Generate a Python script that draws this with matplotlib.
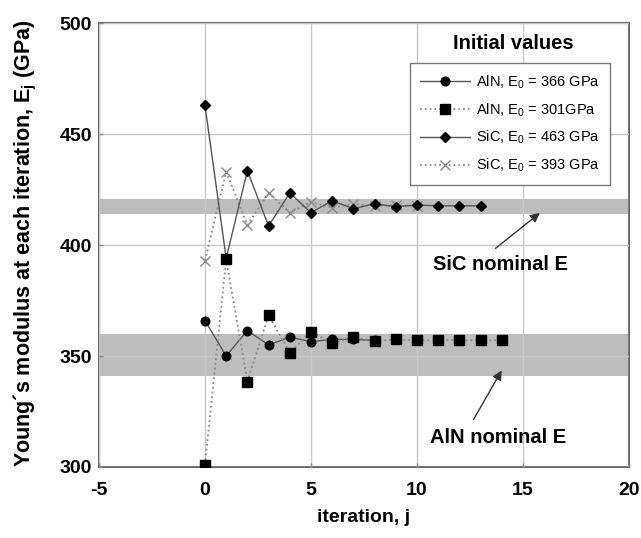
import matplotlib
matplotlib.use("Agg")
import matplotlib.pyplot as plt

plt.rcParams['font.family'] = ['Liberation Sans', 'DejaVu Sans']
plt.rcParams['mathtext.fontset'] = 'custom'
plt.rcParams['mathtext.rm'] = 'Liberation Sans'
plt.rcParams['mathtext.bf'] = 'Liberation Sans:bold'
plt.rcParams['mathtext.it'] = 'Liberation Sans:italic'
plt.rcParams['axes.unicode_minus'] = False

# Data
aln366_j = [0, 1, 2, 3, 4, 5, 6, 7, 8]
aln366_E = [366, 350, 361.5, 355, 358.5, 356.5, 357.5, 357.5, 357]
aln301_j = [0, 1, 2, 3, 4, 5, 6, 7, 8, 9, 10, 11, 12, 13, 14]
aln301_E = [301, 393.5, 338.5, 368.3, 351.5, 361, 355.7, 358.5, 356.7, 357.5, 357, 357.2, 357.1, 357.1, 357.1]
sic463_j = [0, 1, 2, 3, 4, 5, 6, 7, 8, 9, 10, 11, 12, 13]
sic463_E = [463, 394, 433.5, 408.6, 423.5, 414.6, 420, 416.4, 418.6, 417.3, 418, 417.7, 417.7, 417.7]
sic393_j = [0, 1, 2, 3, 4, 5, 6, 7, 8, 9, 10]
sic393_E = [393, 433, 409, 423.5, 414.6, 419.5, 416.8, 418.6, 417.5, 418, 417.7]
sic_band = (413.8, 420.8)
aln_band = (340.8, 359.8)
legend_labels = ["AlN, E$_0$ = 366 GPa", "AlN, E$_0$ = 301GPa",
                 "SiC, E$_0$ = 463 GPa", "SiC, E$_0$ = 393 GPa"]

fig = plt.figure(figsize=(6.41, 5.38), dpi=100)
ax = fig.add_axes([0.1544, 0.132, 0.8269, 0.825])

ax.axhspan(*sic_band, color='#bdbdbd', zorder=0, lw=0)
ax.axhspan(*aln_band, color='#bdbdbd', zorder=0, lw=0)

ax.set_xlim(-5, 20)
ax.set_ylim(300, 500)
ax.set_xticks([-5, 0, 5, 10, 15, 20])
ax.set_yticks([300, 350, 400, 450, 500])
ax.grid(True, color='#c8c8c8', lw=1.0, zorder=1)
ax.set_axisbelow(False)

h1, = ax.plot(aln366_j, aln366_E, '-', color='#555555', lw=1.0, marker='o',
              ms=6.2, mfc='black', mec='black', zorder=4, label=legend_labels[0])
h2, = ax.plot(aln301_j, aln301_E, ':', color='#888888', lw=1.3, marker='s',
              ms=6.5, mfc='black', mec='black', zorder=5, label=legend_labels[1])
h3, = ax.plot(sic463_j, sic463_E, '-', color='#555555', lw=1.0, marker='D',
              ms=5.2, mfc='black', mec='black', zorder=5, label=legend_labels[2])
h4, = ax.plot(sic393_j, sic393_E, ':', color='#888888', lw=1.3, marker='x',
              ms=6.5, mew=1.0, mec='#888888', zorder=4, label=legend_labels[3])

for sp in ax.spines.values():
    sp.set_color('#666666')
    sp.set_linewidth(1.5)
ax.tick_params(direction='in', length=3, color='#888888', width=1,
               labelsize=14)
ax.tick_params(axis='x', pad=11)
ax.tick_params(axis='y', pad=5)
for lab in ax.get_xticklabels() + ax.get_yticklabels():
    lab.set_fontweight('bold')

ax.set_xlabel('iteration, j', fontsize=14, fontweight='bold', labelpad=7)
ax.set_ylabel('Young\u00b4s modulus at each iteration, E$_\\mathbf{j}$ (GPa)',
              fontsize=15.5, fontweight='bold')
ax.yaxis.set_label_coords(-0.113, 0.505)

leg = ax.legend(handles=[h1, h2, h3, h4], loc='upper left',
                bbox_to_anchor=(0.587, 0.910), borderaxespad=0,
                fontsize=10.5, handlelength=3.4, fancybox=False,
                edgecolor='#777777', framealpha=1, borderpad=0.7,
                labelspacing=0.72, handletextpad=0.4)
leg.get_frame().set_linewidth(1.0)
leg.set_zorder(10)

ax.text(0.781, 0.955, 'Initial values', transform=ax.transAxes,
        ha='center', va='center', fontsize=14.5, fontweight='bold', zorder=11)

ax.annotate('', xy=(15.9, 415.3), xytext=(13.6, 397.7),
            arrowprops=dict(arrowstyle='-|>', color='#333333', lw=1.0,
                            mutation_scale=14), zorder=6)
ax.text(10.75, 391.4, 'SiC nominal E', fontsize=14.5, fontweight='bold',
        ha='left', va='center', zorder=6)
ax.annotate('', xy=(14.06, 344.6), xytext=(12.6, 320.3),
            arrowprops=dict(arrowstyle='-|>', color='#333333', lw=1.0,
                            mutation_scale=14), zorder=6)
ax.text(10.6, 313.5, 'AlN nominal E', fontsize=14.5, fontweight='bold',
        ha='left', va='center', zorder=6)

fig.savefig('out.png', dpi=100)
